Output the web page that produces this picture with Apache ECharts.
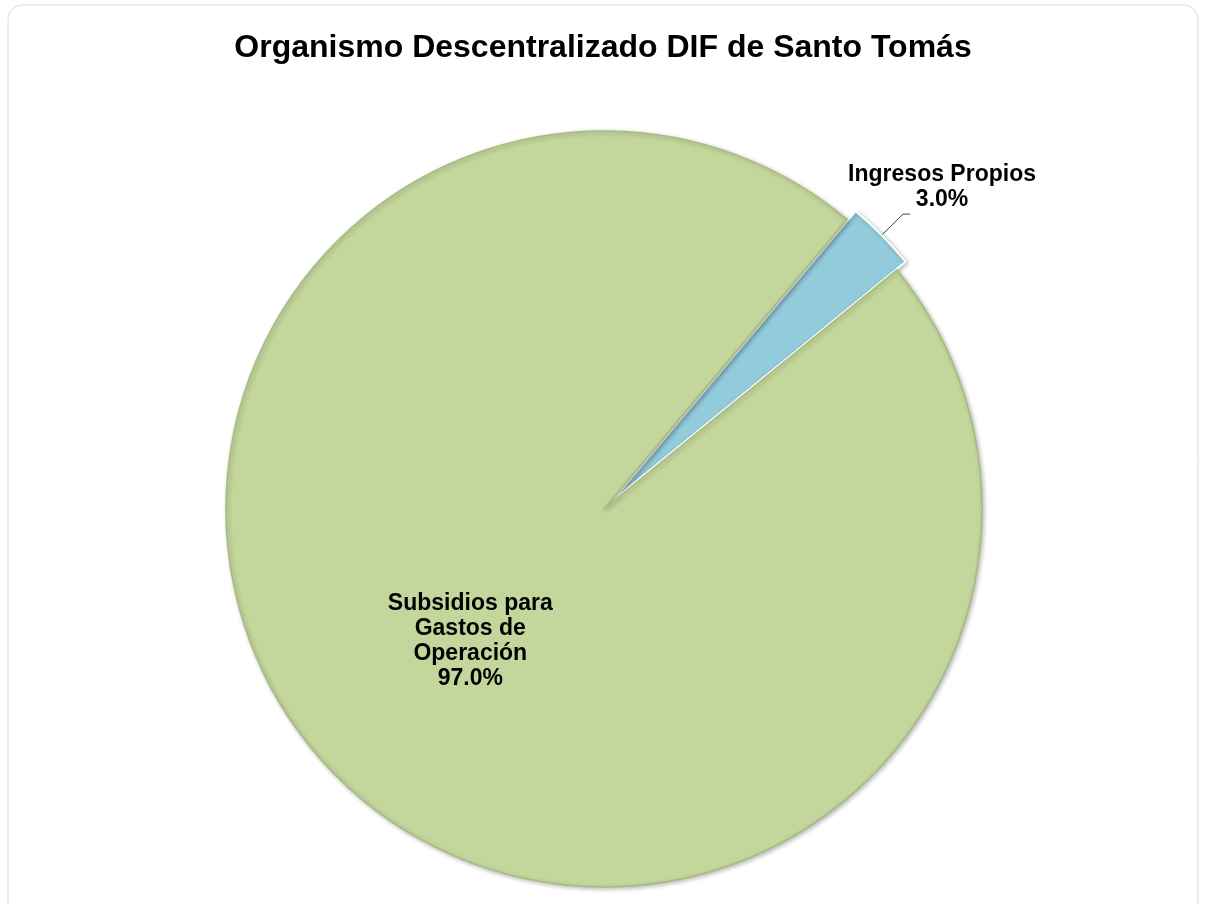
<!DOCTYPE html>
<html>
<head>
<meta charset="utf-8">
<script src="https://cdn.jsdelivr.net/npm/echarts@6/dist/echarts.min.js"></script>
<style>
html,body{margin:0;padding:0;background:#fff;}
#chart{width:1206px;height:905px;}
</style>
</head>
<body>
<div id="chart"></div>
<script>
const titleText = 'Organismo Descentralizado DIF de Santo Tomás';
const categories = ['Ingresos Propios', 'Subsidios para\nGastos de\nOperación'];
const shares = [3.0, 97.0];
const sliceColors = ['#92CBDB', '#C3D69B'];
const exploded = [true, false];

const chart = echarts.init(document.getElementById('chart'), null, {renderer: 'canvas'});
const FONT = '"Liberation Sans", Arial, sans-serif';

const data = categories.map((name, i) => ({
  name: name,
  value: shares[i],
  selected: exploded[i],
  itemStyle: {
    color: sliceColors[i],
    borderColor: i === 0 ? '#FFFFFF' : '#A7BB7F',
    borderWidth: i === 0 ? 2 : 1.5
  },
  label: i === 0 ? {
    position: 'outside'
  } : {
    position: 'inside',
    align: 'center'
  },
  labelLine: i === 0 ? {show: true, length: 30, length2: 7, smooth: false, lineStyle: {color: '#404040', width: 1}} : {show: false}
}));

chart.setOption({
  animation: false,
  backgroundColor: '#FFFFFF',
  graphic: [{
    type: 'rect',
    shape: {x: 8, y: 5, width: 1190, height: 930, r: 14},
    style: {fill: 'none', stroke: '#DADADA', lineWidth: 1},
    silent: true,
    z: -10
  }],
  title: {
    text: titleText,
    left: 'center',
    top: 27,
    textStyle: {fontFamily: FONT, fontSize: 32, fontWeight: 'bold', color: '#000'}
  },
  series: [{
    type: 'pie',
    center: [604, 509],
    radius: 378,
    startAngle: 50,
    clockwise: true,
    selectedMode: 'single',
    selectedOffset: 12,
    avoidLabelOverlap: false,
    data: data,
    itemStyle: {
      shadowBlur: 4,
      shadowColor: 'rgba(0,0,0,0.25)',
      shadowOffsetX: 1.5,
      shadowOffsetY: 1.5
    },
    label: {
      fontFamily: FONT,
      fontSize: 23,
      fontWeight: 'bold',
      color: '#000',
      lineHeight: 25,
      formatter: p => p.name + '\n' + p.value.toFixed(1) + '%'
    },
    labelLayout: function (params) {
      if (params.dataIndex === 0) {
        return {dx: 27, dy: -27, align: 'center'};
      }
      if (params.dataIndex === 1) {
        return {dx: 3, dy: -3};
      }
      return {};
    },
    emphasis: {disabled: true}
  }]
});
</script>
</body>
</html>
